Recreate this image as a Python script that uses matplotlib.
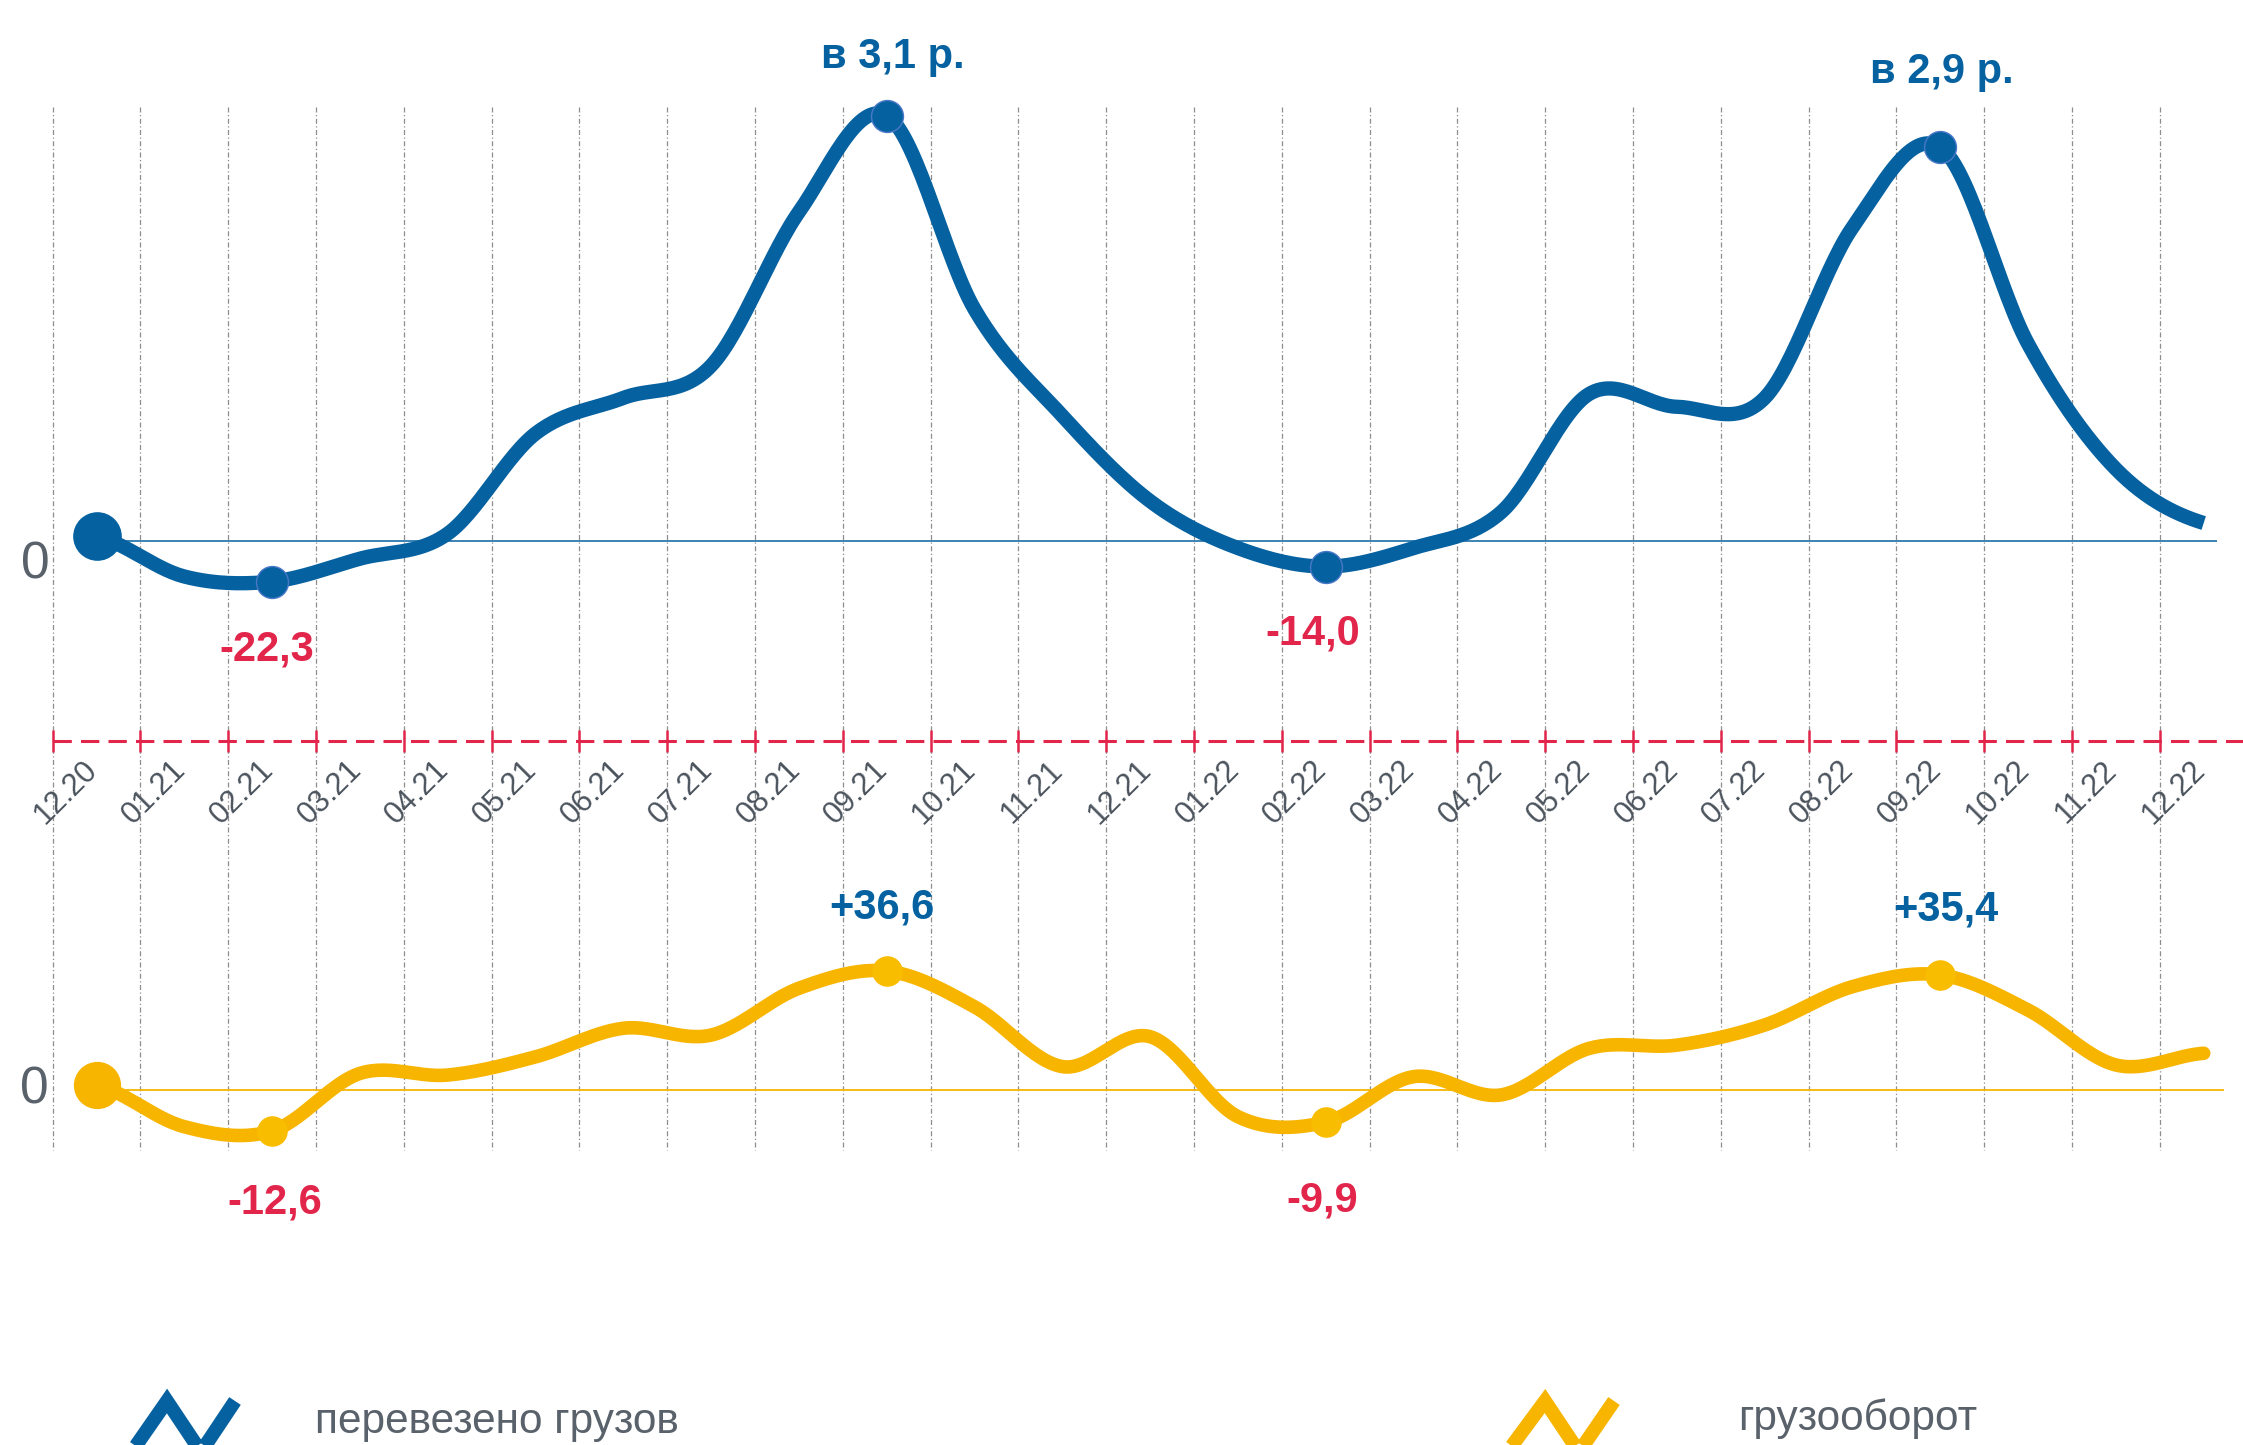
import matplotlib
matplotlib.use("Agg")
import matplotlib.pyplot as plt
import numpy as np

plt.rcParams["font.family"] = ["Liberation Sans", "DejaVu Sans"]

# месяцы (подписи оси)
MONTHS = ["12.20", "01.21", "02.21", "03.21", "04.21", "05.21", "06.21",
          "07.21", "08.21", "09.21", "10.21", "11.21", "12.21", "01.22",
          "02.22", "03.22", "04.22", "05.22", "06.22", "07.22", "08.22",
          "09.22", "10.22", "11.22", "12.22"]

# перевезено грузов, % к базе
CARGO = [2.8, -19.5, -22.3, -9.6, 4.3, 59.9, 79.7, 97.6, 183.0, 236.5,
         129.0, 69.8, 22.4, -3.7, -14.0, -3.7, 16.3, 81.9, 74.8, 79.7,
         174.4, 219.0, 109.7, 40.2, 10.2]

# грузооборот, %
TURNOVER = [1.5, -11.3, -12.6, 5.1, 4.6, 10.2, 19.0, 16.9, 31.3, 36.6,
            25.6, 7.2, 16.4, -8.2, -9.9, 4.1, -1.5, 12.8, 13.8, 20.0,
            31.8, 35.4, 24.6, 7.7, 11.3]

MARKED = [2, 9, 14, 21]
CARGO_LABELS = ["-22,3", "в 3,1 р.", "-14,0", "в 2,9 р."]
TURNOVER_LABELS = ["-12,6", "+36,6", "-9,9", "+35,4"]
LEGEND = ["перевезено грузов", "грузооборот"]

BLUE = "#0561a0"
YELLOW = "#f7b500"
RED = "#e2264b"
GREY = "#59616b"

W, H = 2243, 1445
X0_PX, STEP_PX = 52.6, 87.8
XLIM = (-X0_PX / STEP_PX, (W - X0_PX) / STEP_PX)


def px(v):
    # пиксель по горизонтали -> номер месяца
    return (np.asarray(v, float) - X0_PX) / STEP_PX


def catmull_rom(x, y, n=30):
    x = np.asarray(x, float)
    y = np.asarray(y, float)
    p = np.concatenate([[y[0]], y, [y[-1]]])
    t = np.linspace(0, 1, n, endpoint=False)
    xs, ys = [], []
    for i in range(len(y) - 1):
        p0, p1, p2, p3 = p[i], p[i + 1], p[i + 2], p[i + 3]
        seg = 0.5 * (2 * p1 + (p2 - p0) * t
                     + (2 * p0 - 5 * p1 + 4 * p2 - p3) * t ** 2
                     + (-p0 + 3 * p1 - 3 * p2 + p3) * t ** 3)
        xs.append(x[i] + (x[i + 1] - x[i]) * t)
        ys.append(seg)
    xs.append([x[-1]])
    ys.append([y[-1]])
    return np.concatenate(xs), np.concatenate(ys)


fig = plt.figure(figsize=(W / 100, H / 100), dpi=100)

# фон: сетка, ось месяцев, легенда (y в пикселях)
bg = fig.add_axes([0, 0, 1, 1])
bg.set_xlim(XLIM)
bg.set_ylim(H, 0)
bg.axis("off")

# верхняя панель: zero at 541 px, 1.8 px на единицу
top = fig.add_axes([0, 0, 1, 1])
top.set_xlim(XLIM)
top.set_ylim((541.4 - H) / 1.8, 541.4 / 1.8)
top.axis("off")
top.patch.set_alpha(0)

# нижняя панель: zero at 1090 px, 3.25 px на единицу
bot = fig.add_axes([0, 0, 1, 1])
bot.set_xlim(XLIM)
bot.set_ylim((1090 - H) / 3.25, 1090 / 3.25)
bot.axis("off")
bot.patch.set_alpha(0)

ks = np.arange(len(MONTHS))
x = ks + 0.5

bg.vlines(ks, 107, 1150, colors="#8e8e8e", linestyles=(0, (4, 2, 1, 2)), lw=0.9)
bg.plot([0, XLIM[1]], [741, 741], color=RED, lw=2.2, dashes=(6, 3))
bg.vlines(ks, 730, 752, colors=RED, lw=1.8)
for k, m in zip(ks, MONTHS):
    bg.text(k + 0.155, 792, m, rotation=45, ha="center", va="center",
            fontsize=22, color="#4b535d")

bg.text(px(35), 565, "0", fontsize=37, ha="center", va="center", color=GREY)
bg.text(px(34), 1090, "0", fontsize=37, ha="center", va="center", color=GREY)

# перевезено грузов
top.hlines(0, x[0], 24.65, color=BLUE, lw=1.1)
sx, sy = catmull_rom(x, CARGO)
top.plot(sx, sy, color=BLUE, lw=10.3, solid_capstyle="butt", solid_joinstyle="round")
top.plot(x[0], CARGO[0], "o", ms=34, color=BLUE)
top.plot(x[MARKED], np.array(CARGO)[MARKED], "o", ms=23, mfc=BLUE, mec="#4a78c8", mew=1)
cargo_off = [(-5, -68), (6, 59), (-13, -67), (2, 75)]
for i, lab, off in zip(MARKED, CARGO_LABELS, cargo_off):
    top.annotate(lab, (x[i], CARGO[i]), xytext=off, textcoords="offset pixels",
                 ha="center", va="center", fontsize=30, fontweight="bold",
                 color=RED if lab.startswith("-") else BLUE)

# грузооборот
bot.hlines(0, x[0], 24.73, color=YELLOW, lw=1.3)
sx, sy = catmull_rom(x, TURNOVER)
bot.plot(sx, sy, color=YELLOW, lw=9.8, solid_capstyle="round", solid_joinstyle="round")
bot.plot(x[0], TURNOVER[0], "o", ms=33, color=YELLOW)
bot.plot(x[MARKED], np.array(TURNOVER)[MARKED], "o", ms=21, color="#f9bd00")
turn_off = [(3, -72), (-5, 64), (-4, -78), (6, 65)]
for i, lab, off in zip(MARKED, TURNOVER_LABELS, turn_off):
    bot.annotate(lab, (x[i], TURNOVER[i]), xytext=off, textcoords="offset pixels",
                 ha="center", va="center", fontsize=30, fontweight="bold",
                 color=RED if lab.startswith("-") else BLUE)

# легенда
bg.plot(px([119, 167, 201, 235]), [1470, 1401, 1452, 1401], color=BLUE, lw=10,
        solid_joinstyle="miter", solid_capstyle="butt")
bg.text(px(315), 1433, LEGEND[0], fontsize=30.5, color=GREY, va="baseline")
bg.plot(px([1494, 1545, 1579, 1614]), [1470, 1401, 1452, 1401], color=YELLOW, lw=10,
        solid_joinstyle="miter", solid_capstyle="butt")
bg.text(px(1738), 1430, LEGEND[1], fontsize=30.5, color=GREY, va="baseline")

fig.savefig("out.png", dpi=100)
